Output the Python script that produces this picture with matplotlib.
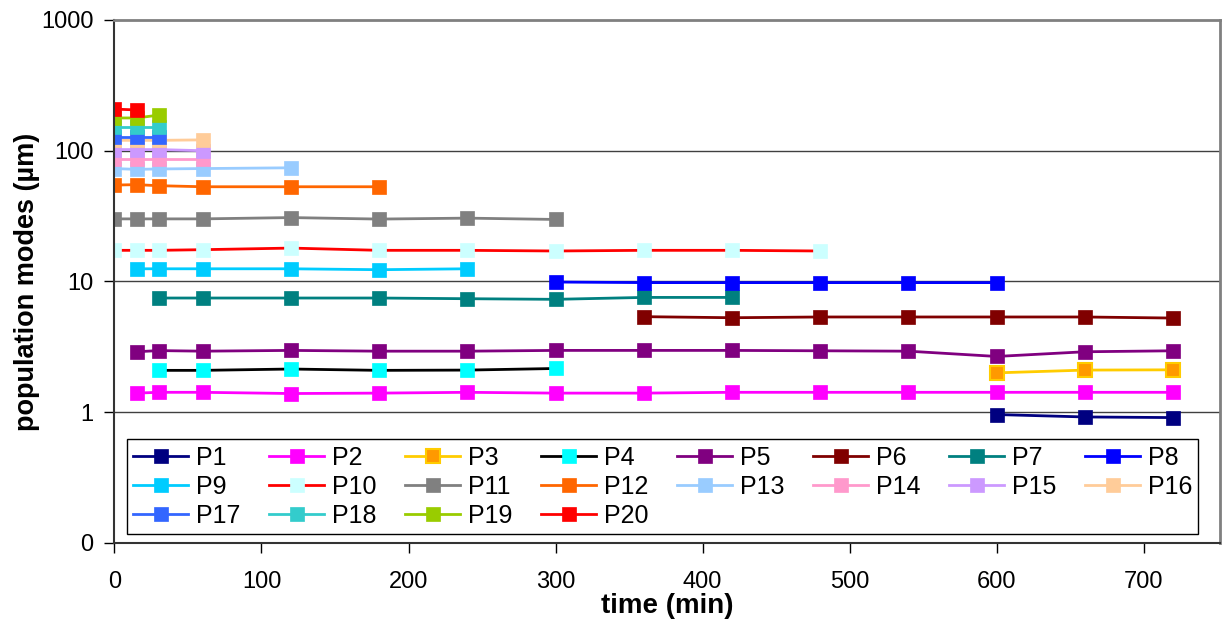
#!/usr/bin/env python3

import matplotlib
matplotlib.use("Agg")
import matplotlib.pyplot as plt
import matplotlib.ticker as mticker
import numpy as np

n = np.nan

time_min = [0, 15, 30, 60, 120, 180, 240, 300, 360, 420, 480, 540, 600, 660, 720]

p1 = [n, n, n, n, n, n, n, n, n, n, n, n, 0.96, 0.92, 0.91]
p2 = [n, 1.40, 1.42, 1.42, 1.39, 1.40, 1.42, 1.40, 1.40, 1.42, 1.42, 1.42, 1.42, 1.42, 1.42]
p3 = [n, n, n, n, n, n, n, n, n, n, n, n, 2.00, 2.10, 2.11]
p4 = [n, n, 2.09, 2.09, 2.14, 2.09, 2.10, 2.16, n, n, n, n, n, n, n]
p5 = [n, 2.90, 2.96, 2.93, 2.97, 2.93, 2.93, 2.97, 2.97, 2.97, 2.95, 2.93, 2.67, 2.90, 2.95]
p6 = [n, n, n, n, n, n, n, n, 5.38, 5.28, 5.35, 5.35, 5.35, 5.35, 5.25]
p7 = [n, n, 7.47, 7.47, 7.47, 7.47, 7.38, 7.30, 7.55, 7.55, n, n, n, n, n]
p8 = [n, n, n, n, n, n, n, 9.9, 9.8, 9.8, 9.8, 9.8, 9.8, n, n]
p9 = [n, 12.5, 12.5, 12.5, 12.5, 12.3, 12.5, n, n, n, n, n, n, n, n]
p10 = [17.3, 17.3, 17.3, 17.5, 18.0, 17.3, 17.3, 17.1, 17.3, 17.3, 17.1, n, n, n, n]
p11 = [30.1, 30.1, 30.1, 30.1, 30.8, 30.0, 30.5, 29.8, n, n, n, n, n, n, n]
p12 = [54.6, 55, 54, 53, 53, 53, n, n, n, n, n, n, n, n, n]
p13 = [73, 72, 72.5, 73, 74, n, n, n, n, n, n, n, n, n, n]
p14 = [86, 86, 86, 86, n, n, n, n, n, n, n, n, n, n, n]
p15 = [102, 102, 102, 100, n, n, n, n, n, n, n, n, n, n, n]
p16 = [120, 120, 120, 121, n, n, n, n, n, n, n, n, n, n, n]
p17 = [128, 128, 128, n, n, n, n, n, n, n, n, n, n, n, n]
p18 = [152, 152, 152, n, n, n, n, n, n, n, n, n, n, n, n]
p19 = [178, 178, 187, n, n, n, n, n, n, n, n, n, n, n, n]
p20 = [208, 205, n, n, n, n, n, n, n, n, n, n, n, n, n]

labels = ["P%d" % i for i in range(1, 21)]
values = [p1, p2, p3, p4, p5, p6, p7, p8, p9, p10,
          p11, p12, p13, p14, p15, p16, p17, p18, p19, p20]

# (line colour, marker face, marker edge)
styles = [
    ("#000080", "#000080", "#000080"),
    ("#FF00FF", "#FF00FF", "#FF00FF"),
    ("#FFCC00", "#FF9900", "#FFCC00"),
    ("#000000", "#00FFFF", "#00FFFF"),
    ("#800080", "#800080", "#800080"),
    ("#800000", "#800000", "#800000"),
    ("#008080", "#008080", "#008080"),
    ("#0000FF", "#0000FF", "#0000FF"),
    ("#00CCFF", "#00CCFF", "#00CCFF"),
    ("#FF0000", "#CCFFFF", "#CCFFFF"),
    ("#808080", "#808080", "#808080"),
    ("#FF6600", "#FF6600", "#FF6600"),
    ("#99CCFF", "#99CCFF", "#99CCFF"),
    ("#FF99CC", "#FF99CC", "#FF99CC"),
    ("#CC99FF", "#CC99FF", "#CC99FF"),
    ("#FFCC99", "#FFCC99", "#FFCC99"),
    ("#3366FF", "#3366FF", "#3366FF"),
    ("#33CCCC", "#33CCCC", "#33CCCC"),
    ("#99CC00", "#99CC00", "#99CC00"),
    ("#FF0000", "#FF0000", "#FF0000"),
]

plt.rcParams["font.family"] = ["Liberation Sans", "DejaVu Sans"]

fig = plt.figure(figsize=(12.23, 6.19), dpi=100)
ax = fig.add_axes([0.0936, 0.1228, 0.904, 0.845])

lines = []
for lab, vals, (lc, fc, ec) in zip(labels, values, styles):
    ln, = ax.plot(time_min, np.array(vals, dtype=float), color=lc, lw=2,
                  marker="s", markersize=10, markerfacecolor=fc,
                  markeredgecolor=ec, markeredgewidth=1.5 if lab == "P3" else 0.5,
                  label=lab)
    lines.append(ln)

ax.set_yscale("log")
ax.set_ylim(0.1, 1000)
ax.set_xlim(0, 752)
ax.yaxis.set_major_locator(mticker.FixedLocator([0.1, 1, 10, 100, 1000]))
ax.yaxis.set_minor_locator(mticker.NullLocator())
ax.set_yticklabels(["0", "1", "10", "100", "1000"])
ax.set_xticks(range(0, 701, 100))

for y in [1, 10, 100]:
    ax.axhline(y, color="#404040", lw=1, zorder=0.5)

ax.tick_params(axis="x", direction="out", length=7, width=1, pad=13, labelsize=17)
ax.tick_params(axis="y", direction="out", length=7, width=1, pad=8, labelsize=17)

ax.spines["left"].set_color("#333333")
ax.spines["bottom"].set_color("#333333")
ax.spines["left"].set_linewidth(1.5)
ax.spines["bottom"].set_linewidth(1.5)
ax.spines["top"].set_color("#808080")
ax.spines["right"].set_color("#808080")
ax.spines["top"].set_linewidth(2)
ax.spines["right"].set_linewidth(2)

ax.set_xlabel("time (min)", fontsize=20, fontweight="bold", labelpad=0)
ax.set_ylabel("population modes (µm)", fontsize=19.5, fontweight="bold", labelpad=1)

# legend reads row by row: column j holds P(j+1), P(j+9), P(j+17)
ncol = 8
order = [i for c in range(ncol) for i in range(c, len(lines), ncol)]
leg = ax.legend([lines[i] for i in order], [labels[i] for i in order],
                ncol=ncol, loc="lower left", bbox_to_anchor=(0.0113, 0.0172, 0.969, 0.18),
                mode="expand", fontsize=18, frameon=True, fancybox=False,
                edgecolor="black", framealpha=1, handlelength=2.2,
                handletextpad=0.3, labelspacing=0.2, borderpad=0.25,
                borderaxespad=0)
leg.get_frame().set_linewidth(1)

plt.savefig("out.png", dpi=100)
